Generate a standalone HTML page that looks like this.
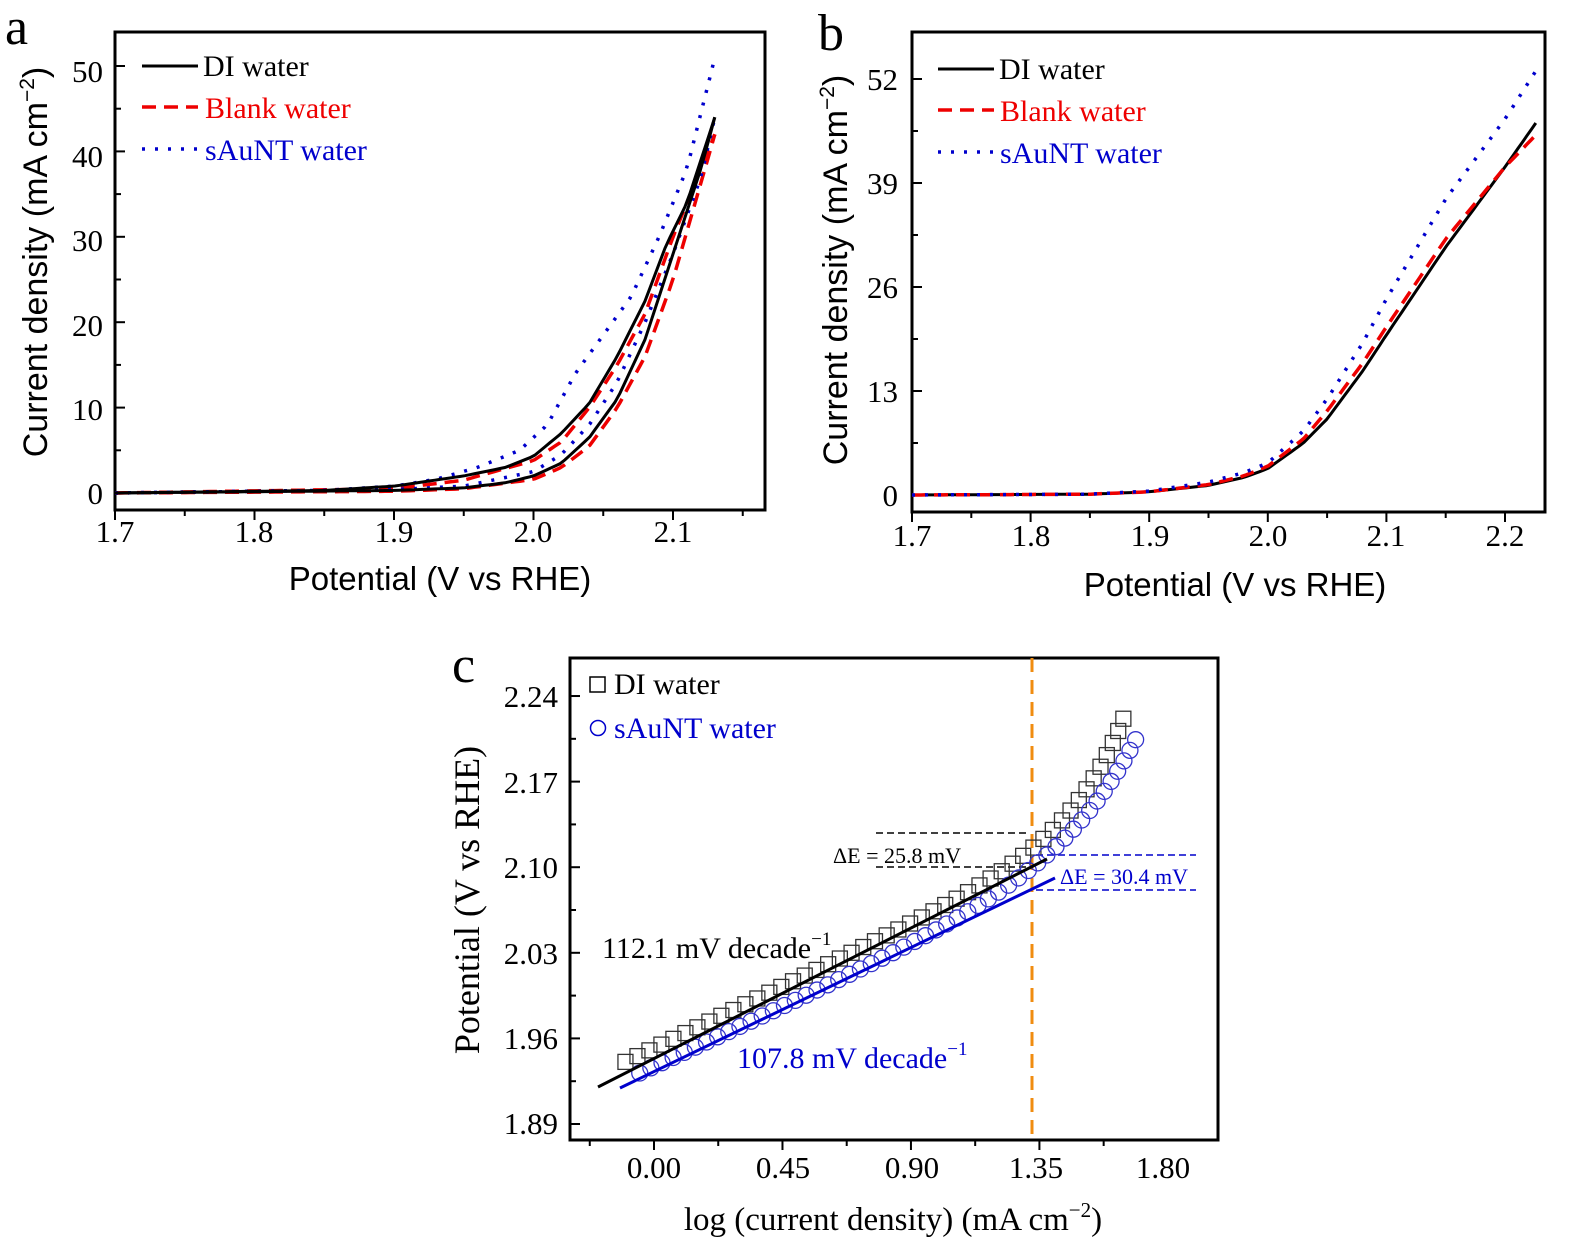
<!DOCTYPE html>
<html><head><meta charset="utf-8"><style>
html,body{margin:0;padding:0;background:#fff;}
svg{display:block;font-family:"Liberation Serif",serif;}
</style></head><body>
<svg id="s" width="1575" height="1252" viewBox="0 0 1575 1252" xmlns="http://www.w3.org/2000/svg">
<rect width="1575" height="1252" fill="#fff"/>
<!-- Panel a -->
<text x="5" y="44" font-size="52">a</text>
<rect x="115" y="32" width="650" height="478" fill="none" stroke="#000" stroke-width="3"/>
<g font-size="31" text-anchor="middle">
<text x="115" y="542">1.7</text><text x="254" y="542">1.8</text><text x="394" y="542">1.9</text><text x="533" y="542">2.0</text><text x="673" y="542">2.1</text>
</g>
<g font-size="31" text-anchor="end">
<text x="103" y="504">0</text><text x="103" y="420">10</text><text x="103" y="336">20</text><text x="103" y="251">30</text><text x="103" y="167">40</text><text x="103" y="82">50</text>
</g>
<text x="440" y="590" font-size="33" font-family="Liberation Sans, sans-serif" text-anchor="middle">Potential (V vs RHE)</text>
<text transform="translate(47,262) rotate(-90)" font-size="34" font-family="Liberation Sans, sans-serif" text-anchor="middle">Current density (mA  cm<tspan font-size="21" dy="-13">−2</tspan><tspan dy="13">)</tspan></text>
<g font-size="30">
<line x1="142" y1="66" x2="198" y2="66" stroke="#000" stroke-width="3"/><text x="203" y="76">DI water</text>
<line x1="142" y1="107" x2="198" y2="107" stroke="#e00" stroke-width="3.5" stroke-dasharray="14,8"/><text x="205" y="118" fill="#e00">Blank water</text>
<line x1="142" y1="149" x2="198" y2="149" stroke="#00c" stroke-width="3.5" stroke-dasharray="3,10"/><text x="205" y="160" fill="#00c">sAuNT water</text>
</g>
<!-- Panel b -->
<text x="818" y="50" font-size="52">b</text>
<rect x="912" y="32" width="633" height="480" fill="none" stroke="#000" stroke-width="3"/>
<g font-size="31" text-anchor="middle">
<text x="912" y="546">1.7</text><text x="1031" y="546">1.8</text><text x="1150" y="546">1.9</text><text x="1268" y="546">2.0</text><text x="1386" y="546">2.1</text><text x="1505" y="546">2.2</text>
</g>
<g font-size="31" text-anchor="end">
<text x="898" y="506">0</text><text x="898" y="402">13</text><text x="898" y="298">26</text><text x="898" y="194">39</text><text x="898" y="90">52</text>
</g>
<text x="1235" y="596" font-size="33" font-family="Liberation Sans, sans-serif" text-anchor="middle">Potential (V vs RHE)</text>
<text transform="translate(847,270) rotate(-90)" font-size="34" font-family="Liberation Sans, sans-serif" text-anchor="middle">Current density (mA  cm<tspan font-size="21" dy="-13">−2</tspan><tspan dy="13">)</tspan></text>
<g font-size="30">
<line x1="938" y1="69" x2="994" y2="69" stroke="#000" stroke-width="3"/><text x="999" y="79">DI water</text>
<line x1="938" y1="110" x2="994" y2="110" stroke="#e00" stroke-width="3.5" stroke-dasharray="14,8"/><text x="1000" y="121" fill="#e00">Blank water</text>
<line x1="938" y1="152" x2="994" y2="152" stroke="#00c" stroke-width="3.5" stroke-dasharray="3,10"/><text x="1000" y="163" fill="#00c">sAuNT water</text>
</g>
<!-- Panel c -->
<text x="452" y="682" font-size="52">c</text>
<rect x="570" y="658" width="648" height="482" fill="none" stroke="#000" stroke-width="3"/>
<g font-size="31" text-anchor="middle">
<text x="654" y="1178">0.00</text><text x="783" y="1178">0.45</text><text x="912" y="1178">0.90</text><text x="1036" y="1178">1.35</text><text x="1163" y="1178">1.80</text>
</g>
<g font-size="31" text-anchor="end">
<text x="558" y="707">2.24</text><text x="558" y="793">2.17</text><text x="558" y="878">2.10</text><text x="558" y="964">2.03</text><text x="558" y="1049">1.96</text><text x="558" y="1134">1.89</text>
</g>
<text x="893" y="1230" font-size="33" text-anchor="middle">log (current density) (mA cm<tspan font-size="21" dy="-13">−2</tspan><tspan dy="13">)</tspan></text>
<text transform="translate(479,900) rotate(-90)" font-size="36" text-anchor="middle">Potential (V vs RHE)</text>
<rect x="590" y="677" width="15" height="15" fill="none" stroke="#000" stroke-width="1.5"/>
<text x="614" y="694" font-size="30">DI water</text>
<circle cx="598" cy="728" r="7.5" fill="none" stroke="#00c" stroke-width="1.5"/>
<text x="614" y="738" font-size="30" fill="#00c">sAuNT water</text>
<line x1="1032" y1="658" x2="1032" y2="1140" stroke="#f08c10" stroke-width="3" stroke-dasharray="14,8"/>
<g stroke="#000" stroke-width="1.5" stroke-dasharray="7,4"><line x1="876" y1="833" x2="1030" y2="833"/><line x1="876" y1="867" x2="1030" y2="867"/></g>
<g stroke="#00c" stroke-width="1.5" stroke-dasharray="7,4"><line x1="1036" y1="855" x2="1196" y2="855"/><line x1="1036" y1="890" x2="1196" y2="890"/></g>
<text x="833" y="863" font-size="22">ΔE = 25.8 mV</text>
<text x="1060" y="884" font-size="22" fill="#00c">ΔE = 30.4 mV</text>
<text x="602" y="958" font-size="30">112.1 mV decade<tspan font-size="19" dy="-13">−1</tspan></text>
<text x="737" y="1068" font-size="30" fill="#00c">107.8 mV decade<tspan font-size="19" dy="-13">−1</tspan></text>
<g id="dyn"></g>
</svg>
<script>
var NS="http://www.w3.org/2000/svg",g=document.getElementById('dyn');
function el(t,a){var e=document.createElementNS(NS,t);for(var k in a)e.setAttribute(k,a[k]);g.appendChild(e);return e;}
function interp(pts,x){for(var i=0;i<pts.length-1;i++){if(x<=pts[i+1][0]){var t=(x-pts[i][0])/(pts[i+1][0]-pts[i][0]);return pts[i][1]+t*(pts[i+1][1]-pts[i][1]);}}return pts[pts.length-1][1];}
function poly(pts,X,Y,st){var d='';for(var i=0;i<pts.length;i++)d+=(i?'L':'M')+X(pts[i][0]).toFixed(1)+' '+Y(pts[i][1]).toFixed(1);var a={d:d,fill:'none'};for(var k in st)a[k]=st[k];el('path',a);}
function smooth(ctrl,x0,x1,n){var r=[];for(var i=0;i<=n;i++){var x=x0+(x1-x0)*i/n;r.push([x,interp(ctrl,x)]);}return r;}
function ticks(){
 for(var k=0;k<=9;k++){var v=1.7+k*0.05;var x=115+(v-1.7)*1395;el('line',{x1:x,y1:510,x2:x,y2:(k%2==0?520:516),stroke:'#000','stroke-width':2});}
 for(var j=0;j<=55;j+=5){var y=493-j*8.54;if(y<34)continue;el('line',{x1:115,y1:y,x2:(j%10==0?125:121),y2:y,stroke:'#000','stroke-width':2});}
 for(var k=0;k<=11;k++){var v=1.7+k*0.05;var x=912+(v-1.7)*1186;if(x>1544)continue;el('line',{x1:x,y1:512,x2:x,y2:(k%2==0?522:518),stroke:'#000','stroke-width':2});}
 for(var k=0;k<=9;k++){var j=k*6.5;var y=495-j*8;if(y<34)continue;el('line',{x1:912,y1:y,x2:(k%2==0?922:918),y2:y,stroke:'#000','stroke-width':2});}
 for(var k=-1;k<=8;k++){var v=-0.225+k*0.225;var x=654+v*285.5;if(x<572||x>1216)continue;el('line',{x1:x,y1:1140,x2:x,y2:(k%2==1?1150:1146),stroke:'#000','stroke-width':2});}
 for(var k=0;k<=12;k++){var e=1.89+k*0.035;var y=1124-(e-1.89)*1222.8;if(y<660)continue;el('line',{x1:570,y1:y,x2:(k%2==0?580:576),y2:y,stroke:'#000','stroke-width':2});}
}
ticks();
var XA=function(v){return 115+(v-1.7)*1395},YA=function(j){return 493-j*8.54};
var DIl=[[1.7,0],[1.85,0.3],[1.9,0.8],[1.95,2],[1.98,3],[2.0,4.3],[2.02,7],[2.04,10.5],[2.06,16],[2.08,22.5],[2.095,29],[2.11,34],[2.13,44]];
var DIr=[[1.7,0],[1.9,0.3],[1.95,0.6],[1.98,1.2],[2.0,2],[2.02,3.5],[2.04,6.5],[2.06,11],[2.08,18],[2.1,28],[2.12,38],[2.13,44]];
var BLl=[[1.7,0],[1.9,0.5],[1.95,1.5],[2.0,3.8],[2.02,6],[2.04,10],[2.06,15],[2.08,21],[2.1,30],[2.13,42]];
var BLr=[[1.7,0],[1.9,0.2],[1.95,0.5],[2.0,1.6],[2.02,3],[2.04,5.5],[2.06,10],[2.08,16],[2.1,25],[2.13,42]];
var SAl=[[1.7,0],[1.85,0.3],[1.9,0.8],[1.93,1.6],[1.96,3],[1.99,5],[2.01,8],[2.03,14],[2.05,18.5],[2.07,23],[2.09,30],[2.11,38],[2.13,51]];
var SAr=[[1.7,0],[1.9,0.4],[1.95,0.8],[2.0,2.5],[2.02,4.5],[2.04,8],[2.06,13],[2.08,20],[2.1,28],[2.12,37],[2.13,44]];
var stK={stroke:'#000','stroke-width':3},stR={stroke:'#e00','stroke-width':3.5,'stroke-dasharray':'14,8'},stB={stroke:'#00c','stroke-width':3.5,'stroke-dasharray':'3,10'};
poly(smooth(BLl,1.7,2.13,120),XA,YA,stR);poly(smooth(BLr,1.7,2.13,120),XA,YA,stR);
poly(smooth(SAl,1.7,2.13,120),XA,YA,stB);poly(smooth(SAr,1.7,2.13,120),XA,YA,stB);
poly(smooth(DIl,1.7,2.13,120),XA,YA,stK);poly(smooth(DIr,1.7,2.13,120),XA,YA,stK);
var XB=function(v){return 912+(v-1.7)*1186},YB=function(j){return 495-j*8};
var bDI=[[1.7,0],[1.85,0.1],[1.9,0.4],[1.95,1.2],[1.98,2.2],[2.0,3.3],[2.03,6.5],[2.05,9.5],[2.08,15.5],[2.1,20],[2.15,31],[2.2,41],[2.226,46.5]];
var bBL=[[1.7,0],[1.85,0.1],[1.9,0.4],[1.95,1.3],[1.98,2.4],[2.0,3.6],[2.03,7],[2.05,10.5],[2.08,16.5],[2.1,21],[2.15,32],[2.2,41],[2.226,45]];
var bSA=[[1.7,0],[1.85,0.1],[1.9,0.5],[1.95,1.6],[1.98,2.8],[2.0,4],[2.03,8],[2.05,12],[2.08,19],[2.1,24.5],[2.15,37],[2.2,47],[2.226,53]];
poly(smooth(bDI,1.7,2.226,140),XB,YB,stK);poly(smooth(bBL,1.7,2.226,140),XB,YB,stR);poly(smooth(bSA,1.7,2.226,140),XB,YB,stB);
var XC=function(v){return 654+v*285.5},YC=function(e){return 1124-(e-1.89)*1222.8};
function markers(f,x0,x1,step,draw){var px=XC(x0),py=YC(f(x0));draw(px,py);for(var x=x0;x<=x1;x+=0.001){var nx=XC(x),ny=YC(f(x));if(Math.hypot(nx-px,ny-py)>=step){draw(nx,ny);px=nx;py=ny;}}}
markers(function(x){return 1.952+0.1121*x+0.088*Math.exp(5.5*(x-1.65));},-0.1,1.65,13,function(x,y){el('rect',{x:x-7.5,y:y-7.5,width:15,height:15,fill:'none',stroke:'#333','stroke-width':1.3});});
markers(function(x){return 1.937+0.1078*x+0.09*Math.exp(4*(x-1.7));},-0.05,1.70,12,function(x,y){el('circle',{cx:x,cy:y,r:8,fill:'none',stroke:'#33c','stroke-width':1.3});});
el('line',{x1:598,y1:1087,x2:1047,y2:859,stroke:'#000','stroke-width':3});
el('line',{x1:620,y1:1088,x2:1055,y2:878,stroke:'#00c','stroke-width':3});
</script>
</body></html>
